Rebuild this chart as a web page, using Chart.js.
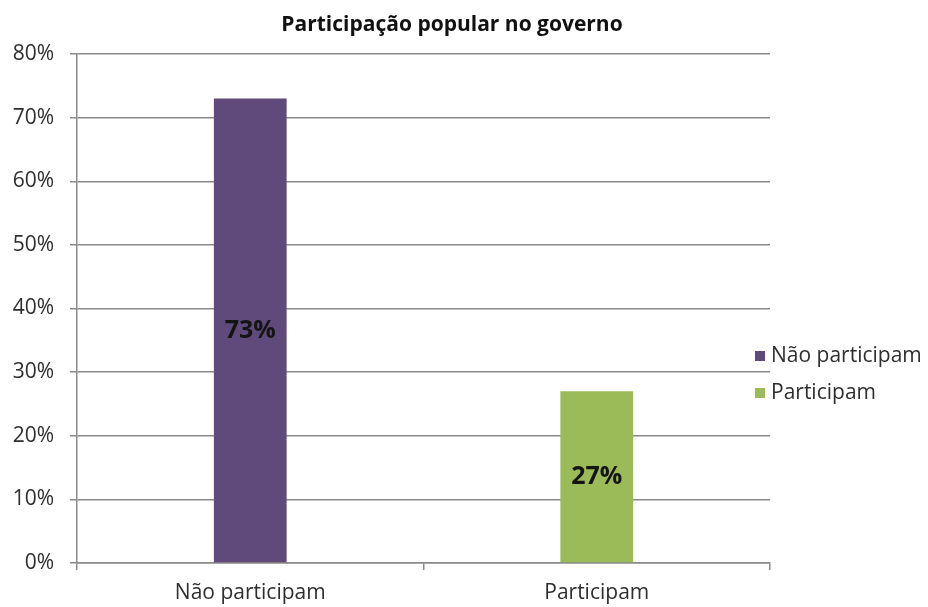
<!DOCTYPE html>
<html lang="pt">
<head>
    <meta charset="UTF-8">
    <title>Participação popular no governo</title>
    <script src="https://cdn.jsdelivr.net/npm/chart.js@4.4.0/dist/chart.umd.min.js"></script>
    <style>
        html, body { margin: 0; padding: 0; background: #fff; }
        #recuadro { display: block; }
    </style>
</head>
<body>

    <canvas id="recuadro" width="928" height="607"></canvas>

    <script>
        const titulo = 'Participação popular no governo';
        const categorias = ['Não participam', 'Participam'];
        const valores = [73, 27];   // em %
        const cores = ['#604a7b', '#9bbb59'];
        const yTicks = ['0%', '10%', '20%', '30%', '40%', '50%', '60%', '70%', '80%'];

        const fonte = '"Open Sans", sans-serif';
        const cinza = '#8a8a8a';
        const texto = '#2e2e2e';

        // titulo, rótulos das barras e legenda desenhados a mão
        const extras = {
            id: 'extras',
            afterDatasetsDraw(chart) {
                const ctx = chart.ctx;
                const meta = chart.getDatasetMeta(0);
                ctx.save();
                ctx.fillStyle = '#141414';
                ctx.font = 'bold 25px ' + fonte;
                ctx.textAlign = 'center';
                ctx.textBaseline = 'middle';
                meta.data.forEach((bar, i) => {
                    const y = (bar.y + bar.base) / 2;
                    ctx.fillText(valores[i] + '%', bar.x, y);
                });
                ctx.restore();
            },
            afterDraw(chart) {
                const ctx = chart.ctx;
                ctx.save();
                ctx.fillStyle = '#111';
                ctx.font = 'bold 21px ' + fonte;
                ctx.textAlign = 'center';
                ctx.textBaseline = 'middle';
                ctx.fillText(titulo, 452, 25);

                ctx.font = '21px ' + fonte;
                ctx.textAlign = 'left';
                categorias.forEach((c, i) => {
                    const y = 356 + i * 37;
                    ctx.fillStyle = cores[i];
                    ctx.fillRect(755, y - 5, 10, 10);
                    ctx.fillStyle = texto;
                    ctx.fillText(c, 771, y);
                });
                ctx.restore();
            }
        };

        const ctx = document.getElementById('recuadro').getContext('2d');
        new Chart(ctx, {
            type: 'bar',
            data: {
                labels: categorias,
                datasets: [{
                    data: valores,
                    backgroundColor: cores,
                    categoryPercentage: 1,
                    barPercentage: 0.21
                }]
            },
            options: {
                responsive: false,
                animation: false,
                layout: { padding: { left: 0, right: 158, top: 54, bottom: 0 } },
                plugins: {
                    legend: { display: false },
                    title: { display: false },
                    tooltip: { enabled: false }
                },
                scales: {
                    x: {
                        offset: true,
                        grid: {
                            offset: true,
                            drawOnChartArea: false,
                            color: cinza,
                            lineWidth: 1.5,
                            tickLength: 7
                        },
                        border: { color: cinza, width: 1.5 },
                        ticks: {
                            padding: 10,
                            color: texto,
                            font: { family: fonte, size: 21 }
                        },
                        afterFit(scale) { scale.height = 44; }
                    },
                    y: {
                        min: 0,
                        max: 80,
                        grid: {
                            color: cinza,
                            lineWidth: 1.5,
                            tickLength: 7
                        },
                        border: { color: cinza, width: 1.5 },
                        ticks: {
                            stepSize: 10,
                            padding: 16,
                            color: texto,
                            font: { family: fonte, size: 21 },
                            callback: (v, i) => yTicks[i]
                        },
                        afterFit(scale) { scale.width = 77; }
                    }
                }
            },
            plugins: [extras]
        });
    </script>

</body>
</html>
